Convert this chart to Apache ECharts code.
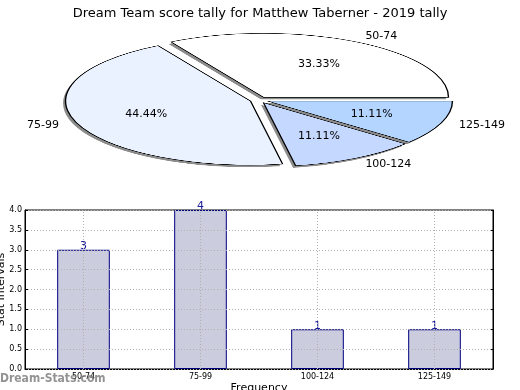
<!DOCTYPE html>
<html><head><meta charset="utf-8">
<script src="https://cdn.jsdelivr.net/npm/echarts@6/dist/echarts.min.js"></script>
<style>
html,body{margin:0;padding:0;background:#fff;width:520px;height:390px;overflow:hidden;position:relative}
#pie{position:absolute;left:0;top:-200px;width:520px;height:600px;transform:scaleY(0.346);transform-origin:0 300px}
#main{position:absolute;left:0;top:0;width:520px;height:390px}
</style></head>
<body>
<div id="pie"></div>
<div id="main"></div>
<script>
// ---- data ----
const titleText = 'Dream Team score tally for Matthew Taberner - 2019 tally';
const categories = ['50-74', '75-99', '100-124', '125-149'];
const counts = [3, 4, 1, 1];
const pieColors = ['#ffffff', '#eaf1ff', '#c5d8ff', '#b3d5ff'];

// ---- layout constants ----
const FONT = 'DejaVu Sans';
const R = 185, CX = 259, CY = 100, SQ = 0.346;
const total = counts.reduce((a, b) => a + b, 0);

// ---- pie (squashed via CSS) ----
const pieBase = {
  type: 'pie',
  radius: R,
  startAngle: 0,
  clockwise: false,
  selectedMode: 'multiple',
  selectedOffset: 9,
  silent: true,
  label: {show: false},
  labelLine: {show: false},
  emphasis: {disabled: true}
};
const pie = echarts.init(document.getElementById('pie'), null, {renderer: 'canvas'});
pie.setOption({
  animation: false,
  series: [
    Object.assign({}, pieBase, {
      center: [CX - 2.5, 306],
      itemStyle: {color: '#8c8c8c', borderWidth: 0},
      data: categories.map((c, i) => ({
        name: c, value: counts[i], selected: true,
        select: {itemStyle: {color: '#8c8c8c', borderWidth: 0}}
      }))
    }),
    Object.assign({}, pieBase, {
      center: [CX, 300],
      itemStyle: {borderColor: '#000', borderWidth: 1.4},
      data: categories.map((c, i) => ({
        name: c, value: counts[i], selected: true,
        itemStyle: {color: pieColors[i]},
        select: {itemStyle: {color: pieColors[i], borderColor: '#000', borderWidth: 1.4}}
      }))
    })
  ]
});

// ---- main chart ----
const squash = function (params) {
  const r = params.labelRect;
  const c = r.y + r.height / 2;
  return {dy: (c - CY) * (SQ - 1)};
};
const chart = echarts.init(document.getElementById('main'), null, {renderer: 'canvas'});
chart.setOption({
  animation: false,
  backgroundColor: 'transparent',
  textStyle: {fontFamily: FONT},
  title: {
    text: titleText, left: 'center', top: 2,
    textStyle: {fontFamily: FONT, fontSize: 13, fontWeight: 'normal', color: '#000'}
  },
  grid: {left: 25, right: 27, top: 210, bottom: 21, outerBoundsMode: 'none', containLabel: false,
    show: true, borderColor: '#000', borderWidth: 1, backgroundColor: 'transparent'},
  xAxis: {
    type: 'category', data: categories, boundaryGap: true,
    axisLine: {show: true, lineStyle: {color: '#000', width: 1}},
    axisTick: {show: true, inside: true, alignWithLabel: true, length: 3, lineStyle: {color: '#000'}},
    axisLabel: {fontSize: 8, color: '#000', margin: 4, fontFamily: FONT},
    splitLine: {show: false},
    name: 'Frequency', nameLocation: 'middle', nameGap: 14, nameMoveOverlap: false,
    nameTextStyle: {fontSize: 11, color: '#000', fontFamily: FONT}
  },
  yAxis: [{
    type: 'value', min: 0, max: 4, interval: 0.5, z: 5,
    axisLine: {show: true, lineStyle: {color: '#000', width: 1}},
    axisTick: {show: true, inside: true, length: 3, lineStyle: {color: '#000'}},
    axisLabel: {fontSize: 8, color: '#000', margin: 3, fontFamily: FONT, formatter: v => v.toFixed(1)},
    splitLine: {show: true, lineStyle: {color: '#b0b0b0', type: [1, 2], width: 1}},
    name: 'Stat Intervals', nameLocation: 'middle', nameGap: 18, nameRotate: 90, nameMoveOverlap: false,
    nameTextStyle: {fontSize: 11, color: '#000', fontFamily: FONT}
  }, {
    type: 'value', min: 0, max: 4, interval: 0.5, position: 'right',
    axisLine: {show: true, lineStyle: {color: '#000'}},
    axisTick: {show: true, inside: true, length: 3, lineStyle: {color: '#000'}},
    axisLabel: {show: false}, splitLine: {show: false}
  }],
  graphic: [{
    type: 'text', left: 0, top: 373, z: 100, silent: true,
    style: {text: 'Dream-Stats.com', fill: 'rgba(120,120,120,0.8)', font: 'bold 12px "DejaVu Sans Condensed", "DejaVu Sans"'}
  }],
  series: [
    {
      type: 'pie', center: [CX, CY], radius: R * 1.15, startAngle: 0, clockwise: false,
      silent: true, avoidLabelOverlap: false,
      itemStyle: {color: 'rgba(0,0,0,0)', borderWidth: 0},
      label: {show: true, position: 'outside', formatter: '{b}', fontSize: 11, color: '#000', fontFamily: FONT, distanceToLabelLine: 0},
      labelLine: {show: false, length: 0, length2: 0},
      labelLayout: squash,
      data: categories.map((c, i) => ({name: c, value: counts[i]}))
    },
    {
      type: 'pie', center: [CX, CY], radius: [0, R * 1.265], startAngle: 0, clockwise: false,
      silent: true, avoidLabelOverlap: false,
      itemStyle: {color: 'rgba(0,0,0,0)', borderWidth: 0},
      label: {show: true, position: 'inside', fontSize: 11, color: '#000', fontFamily: FONT,
        formatter: p => (p.value / total * 100).toFixed(2) + '%'},
      labelLine: {show: false},
      labelLayout: squash,
      data: categories.map((c, i) => ({name: c, value: counts[i]}))
    },
    {
      type: 'bar', data: counts, barWidth: '45%',
      itemStyle: {color: '#ccccdf', borderColor: '#000080', borderWidth: 1},
      label: {show: true, position: 'top', distance: -2, fontSize: 11, color: '#1a1a9c', fontFamily: FONT},
      emphasis: {disabled: true},
      markLine: {
        silent: true, symbol: 'none', label: {show: false},
        lineStyle: {color: '#b0b0b0', type: [1, 2], width: 1},
        data: categories.map(c => ({xAxis: c}))
      }
    }
  ]
});
</script>
</body></html>
